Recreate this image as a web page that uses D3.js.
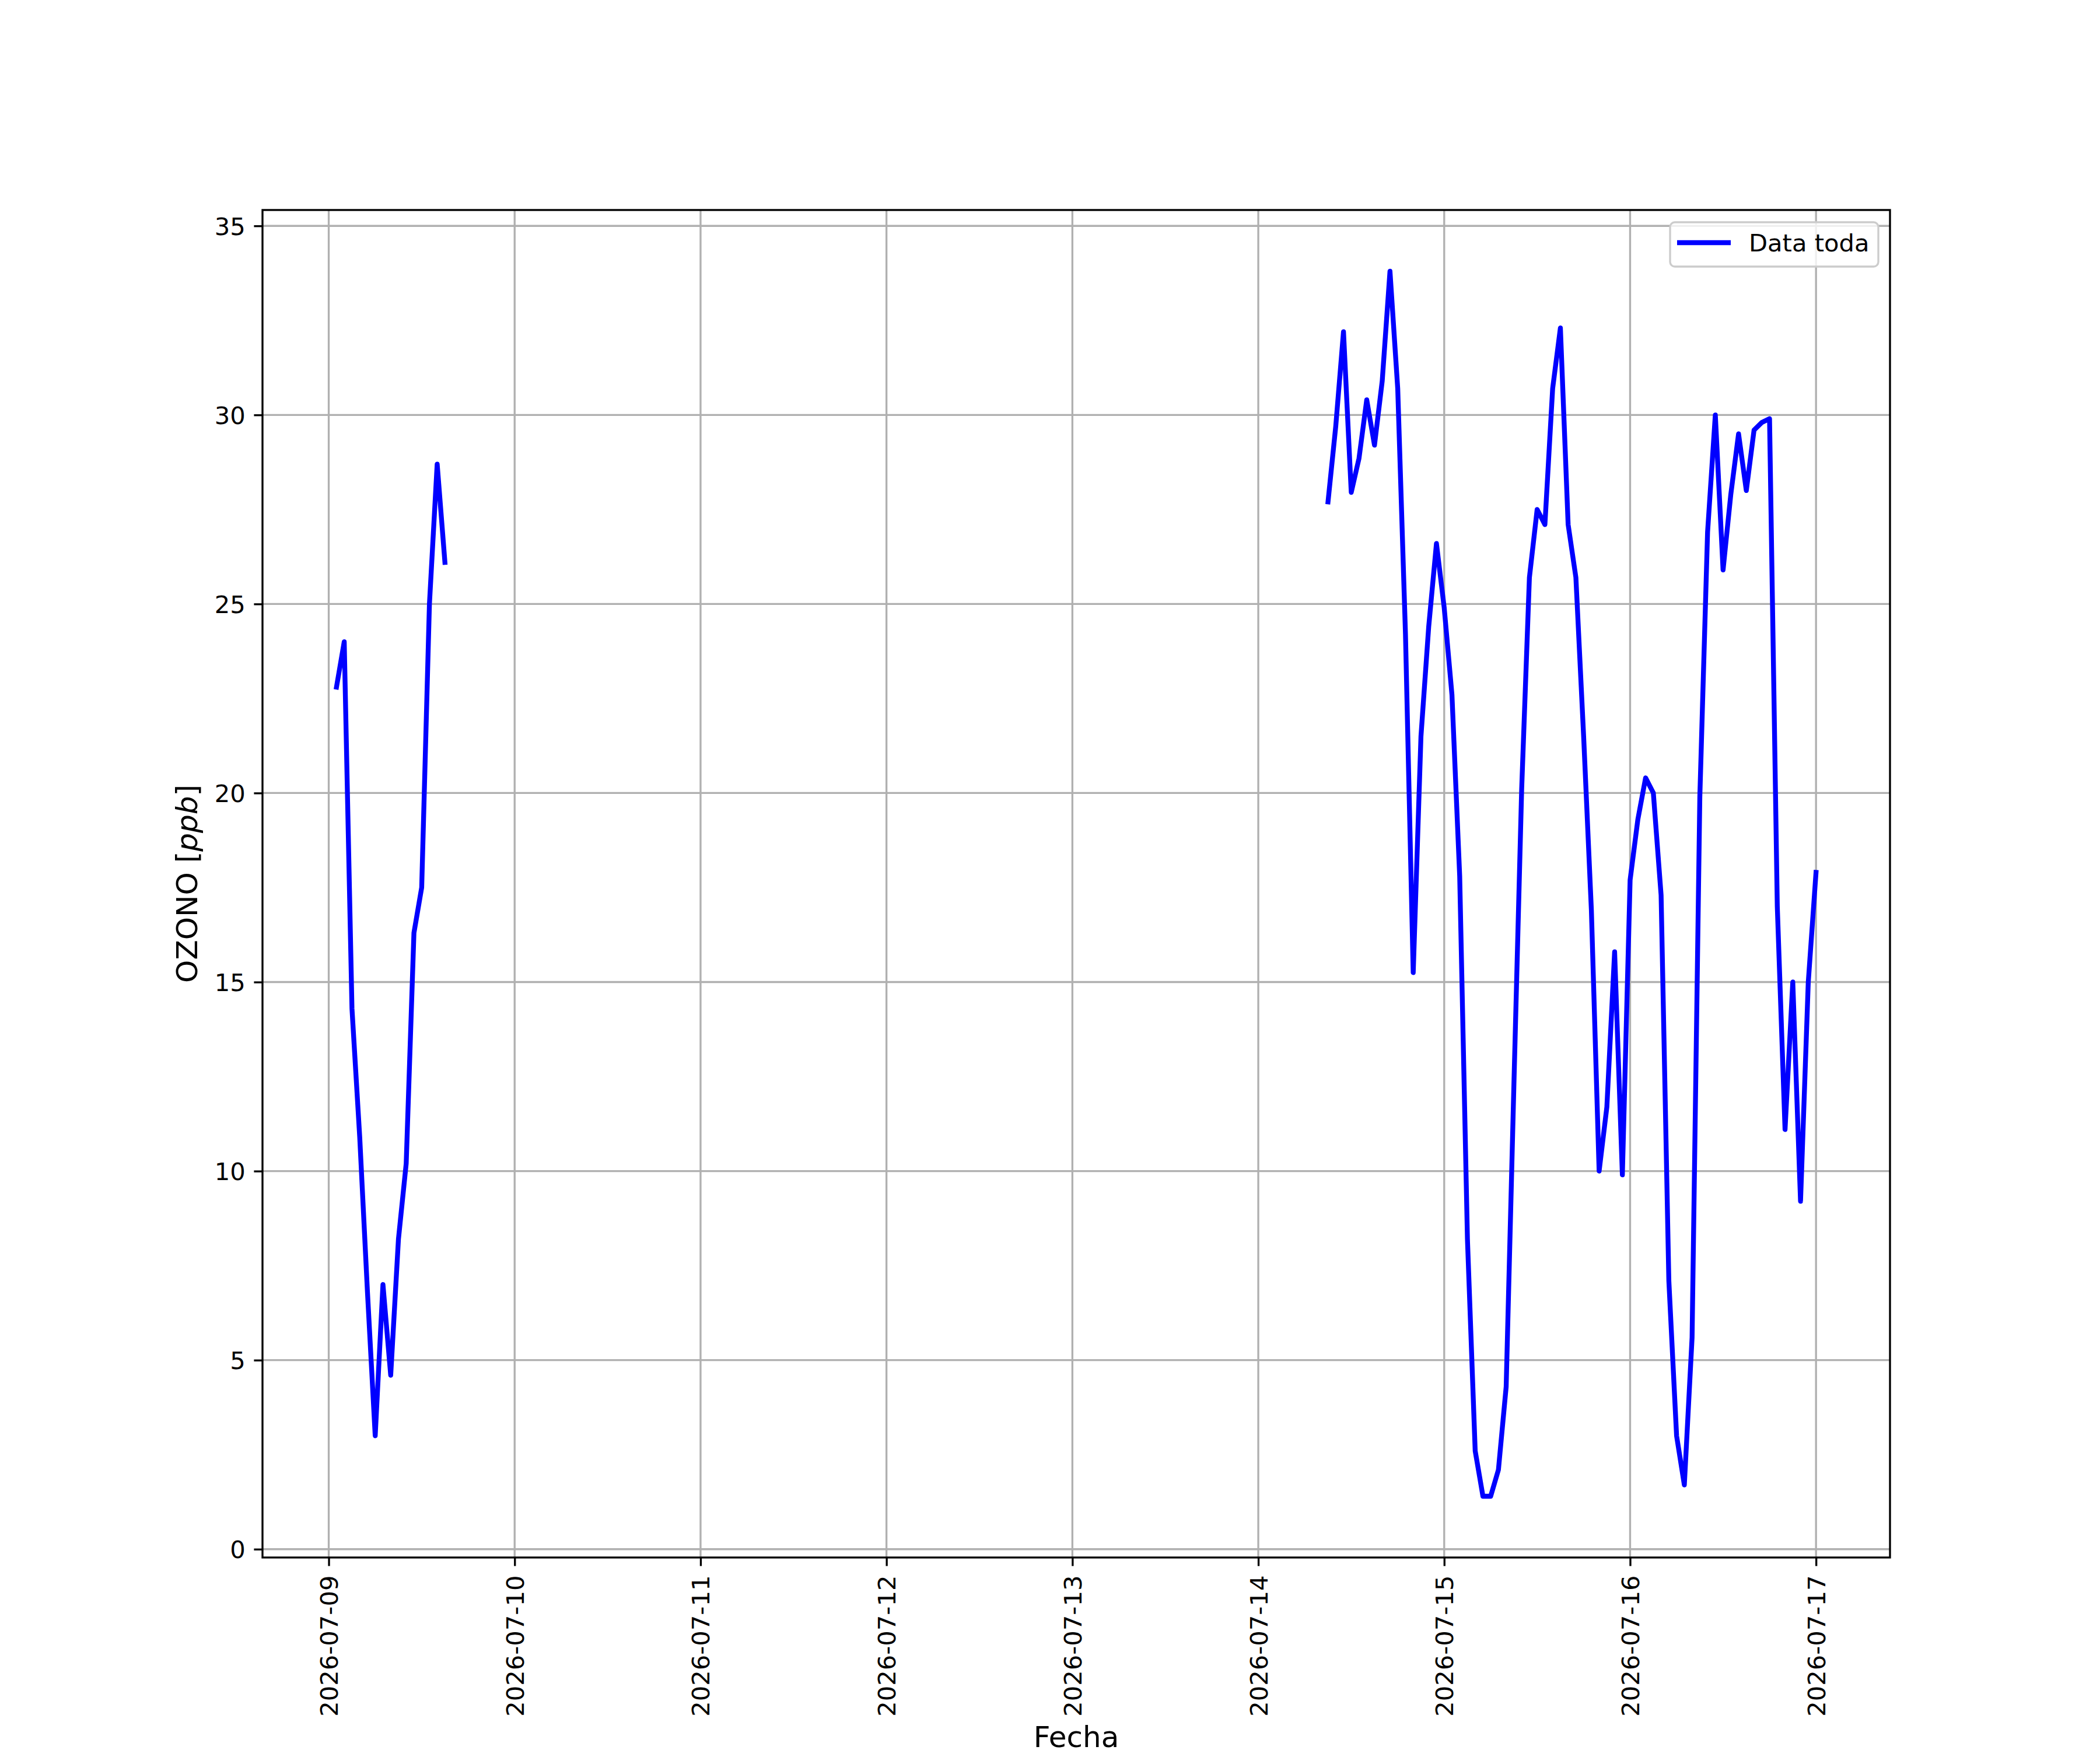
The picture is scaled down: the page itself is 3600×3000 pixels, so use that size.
<!DOCTYPE html>
<html>
<head>
<meta charset="utf-8">
<script src="https://cdn.jsdelivr.net/npm/d3@7"></script>
<style>
  html, body { margin: 0; padding: 0; background: #fff; }
  svg { display: block; font-family: "DejaVu Sans", sans-serif; }
</style>
</head>
<body>
<div id="chart"></div>
<script>
// Ozone hourly series, two stretches with a gap in between
const times1 = [
  '2026-07-09 01:00', '2026-07-09 02:00', '2026-07-09 03:00', '2026-07-09 04:00', '2026-07-09 05:00',
  '2026-07-09 06:00', '2026-07-09 07:00', '2026-07-09 08:00', '2026-07-09 09:00', '2026-07-09 10:00',
  '2026-07-09 11:00', '2026-07-09 12:00', '2026-07-09 13:00', '2026-07-09 14:00', '2026-07-09 15:00',
];
const ozone1 = [22.8, 24.0, 14.3, 10.9, 6.8, 3.0, 7.0, 4.6, 8.2, 10.2, 16.3, 17.5, 25.0, 28.7, 26.1];

const times2 = [
  '2026-07-14 09:00', '2026-07-14 10:00', '2026-07-14 11:00', '2026-07-14 12:00', '2026-07-14 13:00',
  '2026-07-14 14:00', '2026-07-14 15:00', '2026-07-14 16:00', '2026-07-14 17:00', '2026-07-14 18:00',
  '2026-07-14 19:00', '2026-07-14 20:00', '2026-07-14 21:00', '2026-07-14 22:00', '2026-07-14 23:00',
  '2026-07-15 00:00', '2026-07-15 01:00', '2026-07-15 02:00', '2026-07-15 03:00', '2026-07-15 04:00',
  '2026-07-15 05:00', '2026-07-15 06:00', '2026-07-15 07:00', '2026-07-15 08:00', '2026-07-15 09:00',
  '2026-07-15 10:00', '2026-07-15 11:00', '2026-07-15 12:00', '2026-07-15 13:00', '2026-07-15 14:00',
  '2026-07-15 15:00', '2026-07-15 16:00', '2026-07-15 17:00', '2026-07-15 18:00', '2026-07-15 19:00',
  '2026-07-15 20:00', '2026-07-15 21:00', '2026-07-15 22:00', '2026-07-15 23:00', '2026-07-16 00:00',
  '2026-07-16 01:00', '2026-07-16 02:00', '2026-07-16 03:00', '2026-07-16 04:00', '2026-07-16 05:00',
  '2026-07-16 06:00', '2026-07-16 07:00', '2026-07-16 08:00', '2026-07-16 09:00', '2026-07-16 10:00',
  '2026-07-16 11:00', '2026-07-16 12:00', '2026-07-16 13:00', '2026-07-16 14:00', '2026-07-16 15:00',
  '2026-07-16 16:00', '2026-07-16 17:00', '2026-07-16 18:00', '2026-07-16 19:00', '2026-07-16 20:00',
  '2026-07-16 21:00', '2026-07-16 22:00', '2026-07-16 23:00', '2026-07-17 00:00',
];
const ozone2 = [
  27.7, 29.7, 32.2, 27.95, 28.85, 30.4, 29.2, 30.9, 33.8, 30.7,
  24.2, 15.25, 21.5, 24.4, 26.6,
  24.9, 22.6, 17.8, 8.2, 2.6, 1.4, 1.4, 2.1, 4.3, 12.3,
  20.1, 25.7, 27.5, 27.1, 30.7, 32.3, 27.1, 25.7, 21.5, 16.9,
  10.0, 11.7, 15.8, 9.9,
  17.7, 19.3, 20.4, 20.0, 17.3, 7.1, 3.0, 1.7, 5.6, 19.9,
  26.9, 30.0, 25.9, 27.9, 29.5, 28.0, 29.6, 29.8, 29.9, 17.0,
  11.1, 15.0, 9.2, 15.0,
  17.9,
];

const dayTicks = ['2026-07-09', '2026-07-10', '2026-07-11', '2026-07-12', '2026-07-13',
                  '2026-07-14', '2026-07-15', '2026-07-16', '2026-07-17'];
const yTicks = [0, 5, 10, 15, 20, 25, 30, 35];
const seriesLabel = 'Data toda';

// -- figure layout (matplotlib-like defaults)
const W = 3600, H = 3000;
const L = 450, R = 3240, T = 360, B = 2670;
const fs = 41.67, fsLabel = 50;
const tickLen = 14.6, lw = 3.33;

const parseT = d3.utcParse('%Y-%m-%d %H:%M');
const parseD = d3.utcParse('%Y-%m-%d');
const seg1 = times1.map((t, i) => ({ t: parseT(t), v: ozone1[i] }));
const seg2 = times2.map((t, i) => ({ t: parseT(t), v: ozone2[i] }));
const all = seg1.concat(seg2);

// autoscale with 5% margins like matplotlib
const [t0, t1] = d3.extent(all, d => +d.t);
const [v0, v1] = d3.extent(all, d => d.v);
const tm = (t1 - t0) * 0.05, vm = (v1 - v0) * 0.05;
const x = d3.scaleUtc().domain([new Date(t0 - tm), new Date(t1 + tm)]).range([L, R]);
const y = d3.scaleLinear().domain([v0 - vm, v1 + vm]).range([B, T]);

const svg = d3.select('#chart').append('svg')
  .attr('width', W).attr('height', H).attr('viewBox', `0 0 ${W} ${H}`);
svg.append('rect').attr('width', W).attr('height', H).attr('fill', '#fff');

const days = dayTicks.map(parseD);

// grid
const grid = svg.append('g').attr('stroke', '#b0b0b0').attr('stroke-width', lw);
grid.selectAll('line.gx').data(days).join('line')
  .attr('x1', d => x(d)).attr('x2', d => x(d)).attr('y1', T).attr('y2', B);
grid.selectAll('line.gy').data(yTicks).join('line')
  .attr('y1', d => y(d)).attr('y2', d => y(d)).attr('x1', L).attr('x2', R);

// data line
const line = d3.line().x(d => x(d.t)).y(d => y(d.v));
svg.append('g').attr('clip-path', null)
  .selectAll('path').data([seg1, seg2]).join('path')
  .attr('d', line)
  .attr('fill', 'none').attr('stroke', '#0000ff').attr('stroke-width', 8.33)
  .attr('stroke-linejoin', 'round').attr('stroke-linecap', 'square');

// axes
const xAxis = d3.axisBottom(x).tickValues(days).tickSize(tickLen).tickPadding(0)
  .tickFormat(d3.utcFormat('%Y-%m-%d'));
const gx = svg.append('g').attr('transform', `translate(0,${B})`).call(xAxis);
gx.select('.domain').remove();
gx.selectAll('.tick line').attr('stroke', '#000').attr('stroke-width', lw);
gx.selectAll('.tick text')
  .attr('font-size', fs).attr('font-family', '"DejaVu Sans", sans-serif').attr('fill', '#000')
  .attr('text-anchor', 'end').attr('y', 0).attr('dy', '0.36em')
  .attr('transform', `translate(0,${tickLen + 16}) rotate(-90)`);

const yAxis = d3.axisLeft(y).tickValues(yTicks).tickSize(tickLen).tickPadding(14.6)
  .tickFormat(d3.format('d'));
const gy = svg.append('g').attr('transform', `translate(${L},0)`).call(yAxis);
gy.select('.domain').remove();
gy.selectAll('.tick line').attr('stroke', '#000').attr('stroke-width', lw);
gy.selectAll('.tick text')
  .attr('font-size', fs).attr('font-family', '"DejaVu Sans", sans-serif').attr('fill', '#000')
  .attr('dy', '0.36em');

// spines
svg.append('rect').attr('x', L).attr('y', T).attr('width', R - L).attr('height', B - T)
  .attr('fill', 'none').attr('stroke', '#000').attr('stroke-width', lw);

// axis labels
svg.append('text').attr('x', (L + R) / 2).attr('y', 2995)
  .attr('text-anchor', 'middle').attr('font-size', fsLabel).text('Fecha');
const yl = svg.append('text')
  .attr('transform', `translate(338,${(T + B) / 2}) rotate(-90)`)
  .attr('text-anchor', 'middle').attr('font-size', fsLabel);
yl.append('tspan').text('OZONO [');
yl.append('tspan').attr('font-style', 'italic').text('ppb');
yl.append('tspan').text(']');

// legend
const lg = svg.append('g');
lg.append('rect').attr('x', 2863).attr('y', 381).attr('width', 357).attr('height', 76)
  .attr('rx', 8).attr('fill', '#fff').attr('fill-opacity', 0.8)
  .attr('stroke', '#cccccc').attr('stroke-width', lw);
lg.append('line').attr('x1', 2875).attr('x2', 2967).attr('y1', 416).attr('y2', 416)
  .attr('stroke', '#0000ff').attr('stroke-width', 8.33).attr('stroke-linecap', 'butt');
lg.append('text').attr('x', 2998).attr('y', 431).attr('font-size', fs).text(seriesLabel);
</script>
</body>
</html>
